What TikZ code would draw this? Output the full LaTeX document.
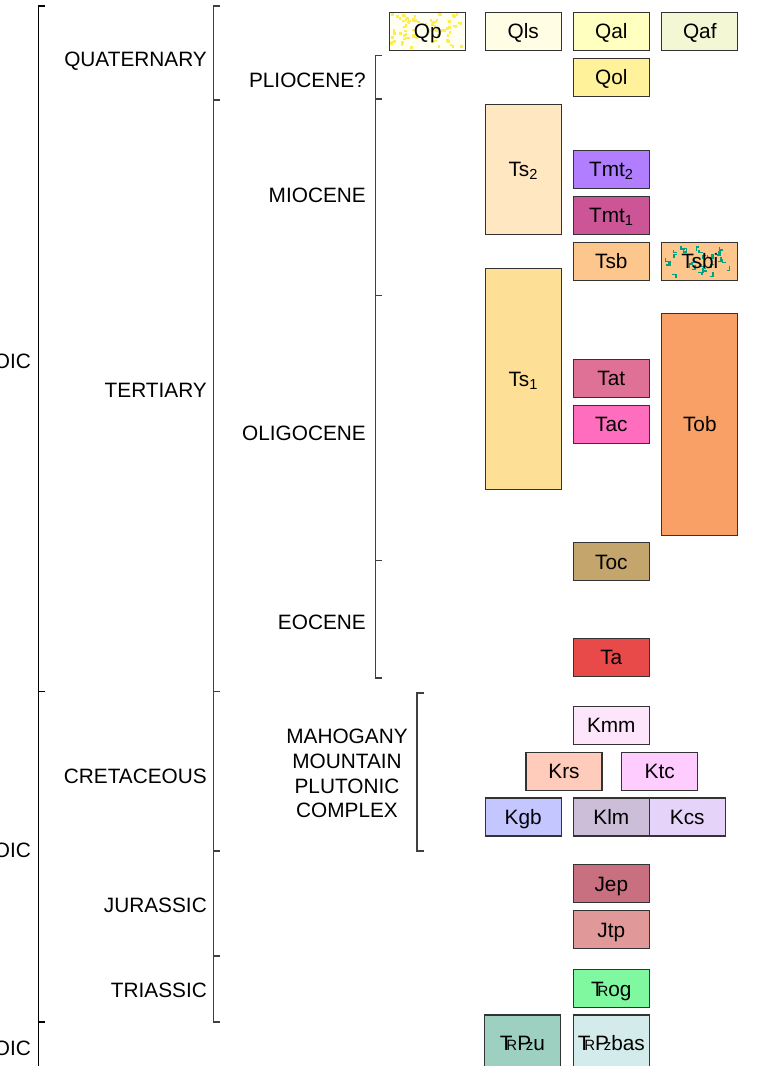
\documentclass[tikz,border=0pt]{standalone}
\usepackage{fontspec}
\setmainfont{Liberation Sans}
\usetikzlibrary{positioning}

\definecolor{qpfill}{HTML}{FFFFF2}
\definecolor{qpdot}{HTML}{FFEC50}
\definecolor{qlsfill}{HTML}{FFFDE4}
\definecolor{qalfill}{HTML}{FFFFC0}
\definecolor{qaffill}{HTML}{F4F7D4}
\definecolor{qolfill}{HTML}{FFF29A}
\definecolor{tstwofill}{HTML}{FFE7C2}
\definecolor{tmttwofill}{HTML}{B07EFF}
\definecolor{tmtonefill}{HTML}{CC5598}
\definecolor{tsbfill}{HTML}{FCC68C}
\definecolor{tsbimark}{HTML}{00A080}
\definecolor{tsonefill}{HTML}{FEDF96}
\definecolor{tatfill}{HTML}{E07196}
\definecolor{tacfill}{HTML}{FF6EBE}
\definecolor{tobfill}{HTML}{F9A066}
\definecolor{tocfill}{HTML}{C4A56B}
\definecolor{tafill}{HTML}{E84A4A}
\definecolor{kmmfill}{HTML}{FDE6FC}
\definecolor{krsfill}{HTML}{FFCBBA}
\definecolor{ktcfill}{HTML}{FFCCFF}
\definecolor{kgbfill}{HTML}{C4C6FF}
\definecolor{klmfill}{HTML}{CCBED8}
\definecolor{kcsfill}{HTML}{E6D3FA}
\definecolor{jepfill}{HTML}{C87080}
\definecolor{jtpfill}{HTML}{E09898}
\definecolor{trogfill}{HTML}{80F8A0}
\definecolor{trpzufill}{HTML}{9DD0C1}
\definecolor{trpzbasfill}{HTML}{D3EBEA}

\newcommand{\trsym}{T\kern-.3em\scalebox{.72}{R}}
\newcommand{\pzsym}{P\kern-.25em\scalebox{.72}{z}}

\begin{document}
\begin{tikzpicture}[x=1pt,y=-1pt,node distance=46,
                    font=\fontsize{20.8}{24.7}\selectfont]
  \tikzstyle{unit}=[draw=black!80, line width=1.1pt, minimum width=76,
                    minimum height=38, inner sep=0pt, text height=14.9pt,
                    text depth=0pt, anchor=center]
  \tikzstyle{unittext}=[unit, draw=none]
  \tikzstyle{lbl}=[anchor=east, inner sep=0pt]
  \tikzstyle{bracket}=[line width=1.1pt, black!75]

  \clip (0,0) rectangle (773,1066);

  % brackets
  \draw[bracket, black] (45,6) -- (38.5,6) -- (38.5,1070);
  \foreach \y in {691.5,1022}
    \draw[bracket, black] (38.5,\y) -- (45,\y);
  \draw[bracket] (220,6) -- (213.5,6) -- (213.5,1022) -- (220,1022);
  \foreach \y in {100,691.5,851,956}
    \draw[bracket] (213.5,\y) -- (220,\y);
  \draw[bracket] (382,55.5) -- (375.5,55.5) -- (375.5,678) -- (382,678);
  \foreach \y in {99,295.5,560.5}
    \draw[bracket] (375.5,\y) -- (382,\y);
  \draw[bracket] (424,693) -- (417,693) -- (417,851) -- (424,851);

  % eras, periods, epochs
  \node[lbl] (ceno) at (31,361)    {CENOZOIC};
  \node[lbl] (meso) at (31,850.5)  {MESOZOIC};
  \node[lbl] (paleo) at (31,1048)  {PALEOZOIC};

  \node[lbl] (quat) at (207,61)    {QUATERNARY};
  \node[lbl] (tert) at (207,390)   {TERTIARY};
  \node[lbl] (cret) at (207,776)   {CRETACEOUS};
  \node[lbl] (jur) at (207,905)    {JURASSIC};
  \node[lbl] (tri) at (207,990)    {TRIASSIC};

  \node[lbl] (plio) at (366,80)    {PLIOCENE?};
  \node[lbl] (mio) at (366,195)    {MIOCENE};
  \node[lbl] (oli) at (366,433)    {OLIGOCENE};
  \node[lbl] (eoc) at (366,622)    {EOCENE};
  \node[align=center] (mmpc) at (347,773.7)
    {MAHOGANY\\MOUNTAIN\\PLUTONIC\\COMPLEX};

  % map units
  \node[unit, fill=qpfill] (Qp) at (427.7,31.3) {};
  \begin{scope}[shift={(Qp.north west)}]
    \pgfmathsetseed{11}
    \foreach \i in {1,...,80}{
      \pgfmathsetmacro\dotx{rnd*72+1}
      \pgfmathsetmacro\doty{rnd*34+1}
      \fill[qpdot] (\dotx,\doty) rectangle ++(2.6,2.6);}
  \end{scope}
  \node[unittext] (QpText) at (Qp) {Qp};
  \node[unit, fill=qlsfill] (Qls) at (523.2,31.3) {Qls};
  \node[unit, fill=qalfill] (Qal) at (611.3,31.3) {Qal};
  \node[unit, fill=qaffill] (Qaf) at (699.8,31.3) {Qaf};
  \node[unit, fill=qolfill] (Qol) [below of=Qal] {Qol};

  \node[unit, fill=tstwofill, minimum height=130] (Ts2) at (523.2,169.3)
    {Ts\textsubscript{2}};
  \node[unit, fill=tmttwofill] (Tmt2) at (611.3,169.2) {Tmt\textsubscript{2}};
  \node[unit, fill=tmtonefill] (Tmt1) [below of=Tmt2] {Tmt\textsubscript{1}};
  \node[unit, fill=tsbfill]    (Tsb)  [below of=Tmt1] {Tsb};
  \node[unit, fill=tsbfill] (Tsbi) [right of=Tsb, node distance=88.5] {};
  \begin{scope}[shift={(Tsbi.north west)}]
    \pgfmathsetseed{5}
    \foreach \i in {1,...,30}{
      \pgfmathsetmacro\markx{rnd*66+5}
      \pgfmathsetmacro\marky{rnd*28+5}
      \pgfmathsetmacro\marka{90*int(rnd*4)}
      \draw[tsbimark, line width=1.3pt]
        (\markx,\marky) -- ++(\marka:4) -- ++(\marka+90:3);}
  \end{scope}
  \node[unittext] (TsbiText) at (Tsbi) {Tsbi};

  \node[unit, fill=tsonefill, minimum height=221] (Ts1) at (523.2,378.8)
    {Ts\textsubscript{1}};
  \node[unit, fill=tatfill] (Tat) at (611.3,378.5) {Tat};
  \node[unit, fill=tacfill] (Tac) [below of=Tat] {Tac};
  \node[unit, fill=tobfill, minimum height=221.7] (Tob) at (699.8,424.2) {Tob};
  \node[unit, fill=tocfill] (Toc) at (611.3,561.8) {Toc};
  \node[unit, fill=tafill]  (Ta)  at (611.3,657.2) {Ta};

  \node[unit, fill=kmmfill] (Kmm) at (611.3,725.5) {Kmm};
  \node[unit, fill=krsfill] (Krs) at (564,771.3)   {Krs};
  \node[unit, fill=ktcfill] (Ktc) at (659.7,771.3) {Ktc};
  \node[unit, fill=kgbfill] (Kgb) at (523.2,817)   {Kgb};
  \node[unit, fill=klmfill] (Klm) at (611.3,817)   {Klm};
  \node[unit, fill=kcsfill] (Kcs) [right of=Klm, node distance=76] {Kcs};

  \node[unit, fill=jepfill] (Jep) at (611.3,883.7) {Jep};
  \node[unit, fill=jtpfill] (Jtp) [below of=Jep] {Jtp};
  \node[unit, fill=trogfill] (TRog) at (611.3,988.8) {\trsym og};
  \node[unit, fill=trpzufill, minimum height=56] (TRPzu) at (522.5,1043)
    {\trsym\pzsym u};
  \node[unit, fill=trpzbasfill, minimum height=56] (TRPzbas) at (611.3,1043)
    {\trsym\pzsym bas};
\end{tikzpicture}
\end{document}
